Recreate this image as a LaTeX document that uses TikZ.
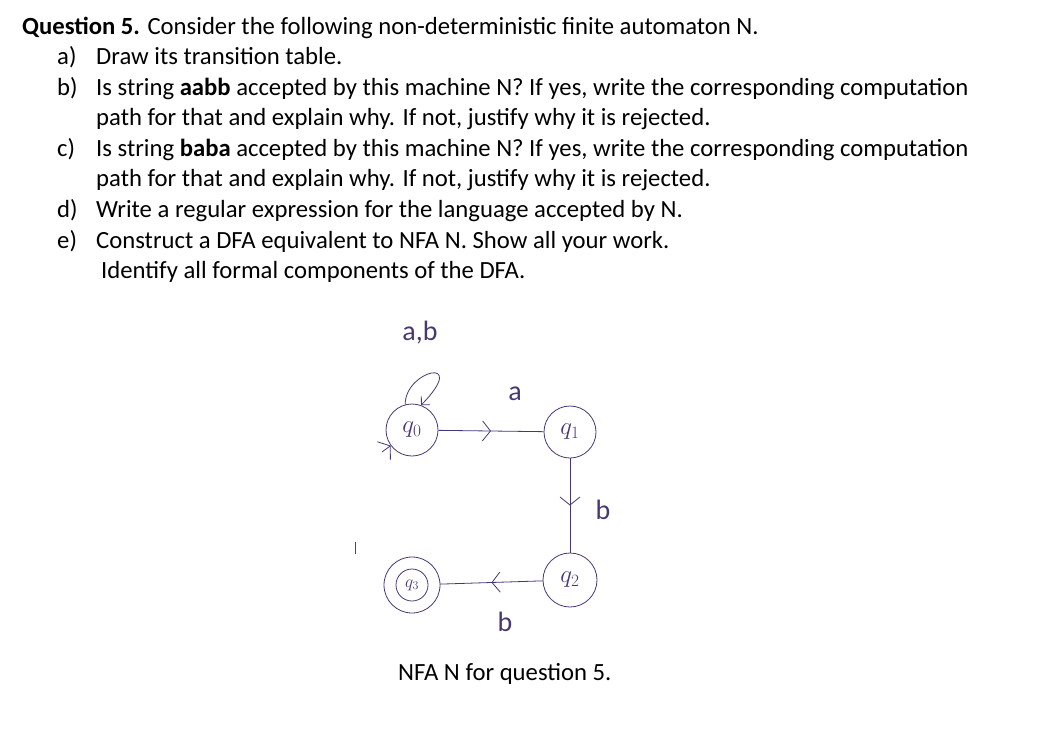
\documentclass[tikz,border=0pt]{standalone}
\usepackage{fontspec}
\setmainfont{Carlito}
\usetikzlibrary{decorations.markings,arrows.meta}
\definecolor{ink}{rgb}{0.28,0.22,0.45}
\begin{document}
\begin{tikzpicture}[x=1pt,y=-1pt,
  txt/.style={anchor=base west,inner sep=0pt,font=\fontsize{24.7}{28}\selectfont},
  st/.style={circle,draw=ink,thick,minimum size=52pt,inner sep=0pt,text=ink,font=\fontsize{26}{30}\selectfont},
  lab/.style={text=ink,font=\fontsize{28}{32}\selectfont,inner sep=0pt},
  mid/.style={thick,draw=ink,postaction={decorate},decoration={markings,mark=at position 0.5 with {\arrow[ink,thick]{Straight Barb[length=8pt,width=20pt]}}}}]
\useasboundingbox (0,0) rectangle (1053,732);
\node[txt] (t0) at (22,34) {\textbf{Question 5.} Consider the following non-deterministic finite automaton N.};
\node[txt] (ta) at (57,64) {a)};
\node[txt] (tax) at (96,64) {Draw its transition table.};
\node[txt] (tb) at (57,95) {b)};
\node[txt] (tbx) at (96,95) {Is string \textbf{aabb} accepted by this machine N? If yes, write the corresponding computation};
\node[txt] (tb2) at (96,125) {path for that and explain why. If not, justify why it is rejected.};
\node[txt] (tc) at (57,156) {c)};
\node[txt] (tcx) at (96,156) {Is string \textbf{baba} accepted by this machine N? If yes, write the corresponding computation};
\node[txt] (tc2) at (96,186) {path for that and explain why. If not, justify why it is rejected.};
\node[txt] (td) at (57,217) {d)};
\node[txt] (tdx) at (96,217) {Write a regular expression for the language accepted by N.};
\node[txt] (te) at (57,248) {e)};
\node[txt] (tex) at (96,248) {Construct a DFA equivalent to NFA N. Show all your work.};
\node[txt] (te2) at (101,278) {Identify all formal components of the DFA.};

\node[st] (q0) at (412,430) {$q_0$};
\node[st] (q1) at (570,432) {$q_1$};
\node[st,minimum size=54pt] (q2) at (570,580) {$q_2$};
\node[st,minimum size=56pt] (q3) at (412,585) {};
\node[circle,draw=ink,thick,minimum size=32pt,inner sep=0pt,text=ink,font=\fontsize{17}{20}\selectfont] (q3i) at (412,585) {$q_3$};

\coordinate (s0) at (382,452);
\draw[thick,ink,-{Straight Barb[length=8pt,width=22pt]}] (s0) -- (q0);
\draw[thick,ink,-{Straight Barb[length=6pt,width=12pt]}] (q0.105) .. controls (405,370) and (470,355) .. (q0.70);
\draw[mid] (q0) -- (q1);
\draw[mid] (q1) -- (q2);
\draw[mid] (q2) -- (q3);

\node[lab] (la0) at (420,333) {a,b};
\node[lab] (la1) at (515,394) {a};
\node[lab] (lb1) at (603,510) {b};
\node[lab] (lb2) at (505,622) {b};
\node[inner sep=0pt,text=black!70] (tick) at (355,548) {\rule{0.8pt}{12pt}};
\node[txt] (cap) at (398,680) {NFA N for question 5.};
\end{tikzpicture}
\end{document}
